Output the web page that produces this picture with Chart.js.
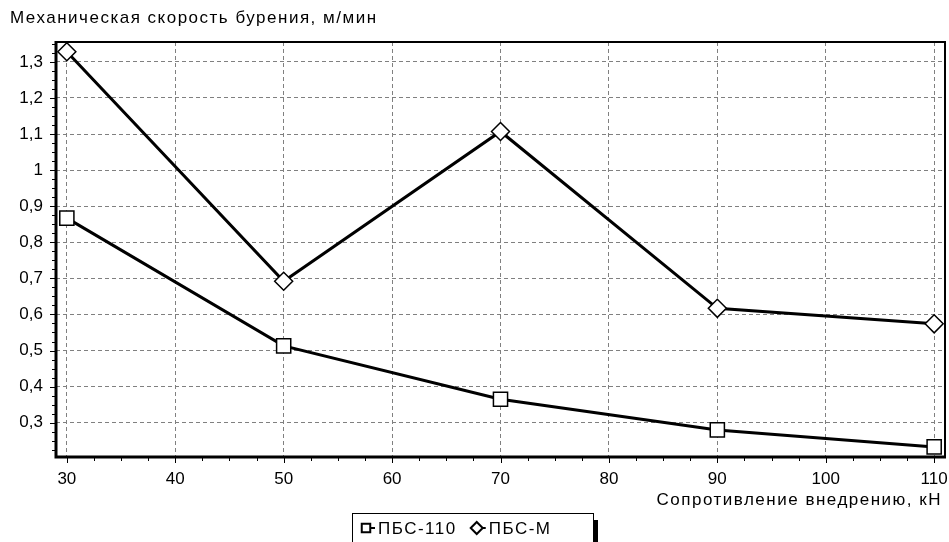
<!DOCTYPE html>
<html>
<head>
<meta charset="utf-8">
<script src="https://cdn.jsdelivr.net/npm/chart.js@4/dist/chart.umd.min.js"></script>
<style>
  html, body { margin: 0; padding: 0; background: #fff; }
  #wrap { width: 949px; height: 542px; position: relative; }
</style>
</head>
<body>
<div id="wrap"><canvas id="chart"></canvas></div>
<script>
// data
const loads = [30, 50, 70, 90, 110];
const pbs110 = [0.867, 0.513, 0.365, 0.28, 0.233];
const pbsM = [1.328, 0.692, 1.107, 0.617, 0.574];
const yTicks = [0.3, 0.4, 0.5, 0.6, 0.7, 0.8, 0.9, 1.0, 1.1, 1.2, 1.3];
const xTicks = [30, 40, 50, 60, 70, 80, 90, 100, 110];

const FONT = '"Liberation Sans", Arial, sans-serif';
const fmt = v => String(Math.round(v * 10) / 10).replace('.', ',');

// frame, small ticks, titles and the boxed legend
const decorPlugin = {
    id: 'decor',
    beforeDatasetsDraw(chart) {
        const { ctx, chartArea: a, scales: { x, y } } = chart;
        ctx.save();
        ctx.strokeStyle = '#000';
        // minor ticks
        ctx.lineWidth = 1;
        ctx.beginPath();
        for (let v = 30; v <= 110; v += 2.5) {
            const px = Math.round(x.getPixelForValue(v)) + 0.5;
            const len = v % 10 === 0 ? 6 : 4;
            ctx.moveTo(px, a.bottom);
            ctx.lineTo(px, a.bottom + len);
        }
        for (let v = 0.225; v <= 1.35; v += 0.025) {
            const py = Math.round(y.getPixelForValue(v)) + 0.5;
            const len = Math.abs(v * 10 - Math.round(v * 10)) < 0.01 ? 6 : 4;
            ctx.moveTo(a.left, py);
            ctx.lineTo(a.left - len, py);
        }
        ctx.stroke();
        // frame
        ctx.lineWidth = 2;
        ctx.strokeRect(a.left, a.top, a.right - a.left, a.bottom - a.top);
        ctx.lineWidth = 3;
        ctx.beginPath();
        ctx.moveTo(a.left, a.top - 1);
        ctx.lineTo(a.left, a.bottom);
        ctx.lineTo(a.right + 1, a.bottom);
        ctx.stroke();
        ctx.restore();
    },
    afterDraw(chart) {
        const { ctx, chartArea: a } = chart;
        ctx.save();
        ctx.fillStyle = '#000';
        ctx.font = '17px ' + FONT;
        ctx.letterSpacing = '1.5px';
        ctx.textBaseline = 'middle';
        ctx.textAlign = 'left';
        ctx.fillText('Механическая скорость бурения, м/мин', 10, 18);
        ctx.textAlign = 'right';
        ctx.fillText('Сопротивление внедрению, кН', a.right - 3, 500);

        // legend
        const bx = 352, by = 513, bw = 241, bh = 32;
        ctx.fillStyle = '#000';
        ctx.fillRect(bx + bw, by + 7, 5, bh);
        ctx.fillStyle = '#fff';
        ctx.fillRect(bx, by, bw, bh);
        ctx.strokeStyle = '#000';
        ctx.lineWidth = 1;
        ctx.strokeRect(bx + 0.5, by + 0.5, bw, bh);
        ctx.textAlign = 'left';
        let cx = bx + 14;
        const cy = by + 15;
        chart.data.datasets.forEach(ds => {
            ctx.lineWidth = 2;
            ctx.beginPath();
            ctx.moveTo(cx + 4, cy);
            ctx.lineTo(cx + 9, cy);
            ctx.stroke();
            ctx.fillStyle = '#fff';
            Chart.helpers.drawPoint(ctx, {
                pointStyle: ds.pointStyle, radius: 6, borderWidth: 1.5
            }, cx, cy);
            ctx.fillStyle = '#000';
            ctx.fillText(ds.label, cx + 12, cy + 1);
            cx += 12 + ctx.measureText(ds.label).width + 20;
        });
        ctx.restore();
    }
};

new Chart(document.getElementById('chart'), {
    type: 'line',
    data: {
        datasets: [{
            label: 'ПБС-110',
            data: loads.map((v, i) => ({ x: v, y: pbs110[i] })),
            borderColor: '#000',
            borderWidth: 3,
            pointStyle: 'rect',
            pointRadius: 10,
            pointBackgroundColor: '#fff',
            pointBorderColor: '#000',
            pointBorderWidth: 1.5
        }, {
            label: 'ПБС-М',
            data: loads.map((v, i) => ({ x: v, y: pbsM[i] })),
            borderColor: '#000',
            borderWidth: 3,
            pointStyle: 'rectRot',
            pointRadius: 9,
            pointBackgroundColor: '#fff',
            pointBorderColor: '#000',
            pointBorderWidth: 1.5
        }]
    },
    options: {
        responsive: true,
        maintainAspectRatio: false,
        animation: false,
        layout: { autoPadding: false, padding: { top: 42, right: 4, left: 0, bottom: 0 } },
        plugins: {
            legend: { display: false },
            tooltip: { enabled: false }
        },
        scales: {
            x: {
                type: 'linear',
                min: 29,
                max: 111,
                afterBuildTicks: s => { s.ticks = xTicks.map(v => ({ value: v })); },
                afterFit: s => { s.height = 85; s.paddingLeft = 0; s.paddingRight = 0; },
                ticks: {
                    padding: 12,
                    color: '#000',
                    font: { family: FONT, size: 17 },
                    maxRotation: 0
                },
                grid: { color: '#808080', lineWidth: 1, drawTicks: false },
                border: { display: false, dash: [4, 3] }
            },
            y: {
                type: 'linear',
                min: 0.205,
                max: 1.355,
                afterBuildTicks: s => { s.ticks = yTicks.map(v => ({ value: v })); },
                afterFit: s => { s.width = 56; s.paddingTop = 0; s.paddingBottom = 0; },
                ticks: {
                    padding: 13,
                    color: '#000',
                    font: { family: FONT, size: 17 },
                    callback: v => fmt(v)
                },
                grid: { color: '#808080', lineWidth: 1, drawTicks: false },
                border: { display: false, dash: [4, 3] }
            }
        }
    },
    plugins: [decorPlugin]
});
</script>
</body>
</html>
